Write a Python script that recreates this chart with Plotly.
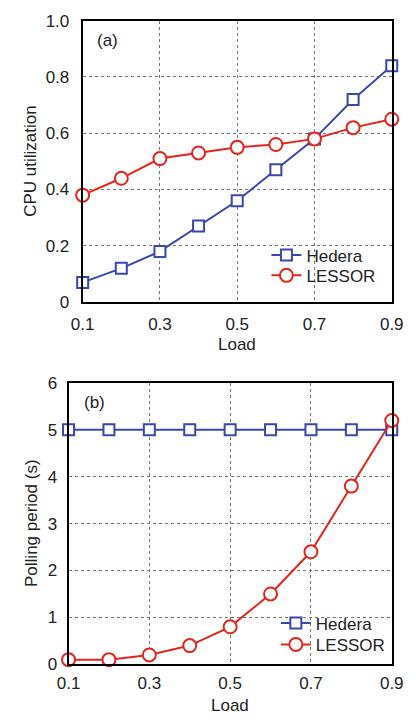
import plotly.graph_objects as go

load = [0.1, 0.2, 0.3, 0.4, 0.5, 0.6, 0.7, 0.8, 0.9]
cpu_hedera = [0.07, 0.12, 0.18, 0.27, 0.36, 0.47, 0.58, 0.72, 0.84]
cpu_lessor = [0.38, 0.44, 0.51, 0.53, 0.55, 0.56, 0.58, 0.62, 0.65]
poll_hedera = [5, 5, 5, 5, 5, 5, 5, 5, 5]
poll_lessor = [0.1, 0.1, 0.2, 0.4, 0.8, 1.5, 2.4, 3.8, 5.2]

x_ticks = [0.1, 0.3, 0.5, 0.7, 0.9]
x_ticktext = ["0.1", "0.3", "0.5", "0.7", "0.9"]
y1_ticks = [0, 0.2, 0.4, 0.6, 0.8, 1.0]
y1_ticktext = ["0", "0.2", "0.4", "0.6", "0.8", "1.0"]
y2_ticks = [0, 1, 2, 3, 4, 5, 6]

BLUE = "#3a47ad"
RED = "#e2261d"
FONT = "Liberation Sans, Arial, sans-serif"
W, H = 416, 724

fig = go.Figure()

def add(x, y, name, color, symbol, xa, ya, legend, size):
    fig.add_trace(go.Scatter(
        x=x, y=y, name=name, mode="lines+markers",
        line=dict(color=color, width=2),
        marker=dict(symbol=symbol, size=size, color="white",
                    line=dict(color=color, width=2)),
        xaxis=xa, yaxis=ya, legend=legend, cliponaxis=False))

add(load, cpu_hedera, "Hedera", BLUE, "square", "x", "y", "legend", 11)
add(load, cpu_lessor, "LESSOR", RED, "circle", "x", "y", "legend2", 13)
add(load, poll_hedera, "Hedera", BLUE, "square", "x2", "y2", "legend3", 11)
add(load, poll_lessor, "LESSOR", RED, "circle", "x2", "y2", "legend4", 13)

def axis(standoff):
    return dict(showline=True, linecolor="black", linewidth=2, mirror=True,
                showgrid=True, gridcolor="#777777", griddash="dot", gridwidth=1,
                zeroline=False, ticks="", ticklabelstandoff=standoff,
                tickfont=dict(size=17, color="#222"))

def leg(xpx, ypx):
    return dict(x=xpx / W, y=1 - ypx / H, xanchor="left", yanchor="middle",
                bgcolor="rgba(0,0,0,0)", font=dict(size=17, color="#222"),
                itemwidth=30, borderwidth=0)

fig.update_layout(
    width=W, height=H,
    margin=dict(l=0, r=0, t=0, b=0),
    paper_bgcolor="white", plot_bgcolor="white",
    font=dict(family=FONT, color="#222"),
    xaxis=dict(domain=[75 / W, 403 / W], range=[0.1, 0.9], tickvals=x_ticks,
               ticktext=x_ticktext, anchor="y", **axis(5)),
    yaxis=dict(domain=[1 - 301 / H, 1 - 12 / H], range=[0, 1.0], tickvals=y1_ticks,
               ticktext=y1_ticktext, anchor="x", **axis(8)),
    xaxis2=dict(domain=[60 / W, 403 / W], range=[0.1, 0.9], tickvals=x_ticks,
                ticktext=x_ticktext, anchor="y2", **axis(2)),
    yaxis2=dict(domain=[1 - 673 / H, 1 - 384 / H], range=[0, 6], tickvals=y2_ticks,
                anchor="x2", **axis(6)),
    legend=leg(270, 253),
    legend2=leg(270, 274),
    legend3=leg(280, 631),
    legend4=leg(280, 653),
    showlegend=True,
)

ann = [
    dict(text="Load", x=239 / W, y=1 - 345 / H),
    dict(text="Load", x=231 / W, y=1 - 715 / H),
    dict(text="CPU utilization", x=20 / W, y=1 - 156 / H, textangle=-90),
    dict(text="Polling period (s)", x=20 / W, y=1 - 528 / H, textangle=-90),
    dict(text="(a)", x=101 / W, y=1 - 32 / H),
    dict(text="(b)", x=88 / W, y=1 - 404 / H),
]
for a in ann:
    fig.add_annotation(xref="paper", yref="paper", showarrow=False,
                       xanchor="center", yanchor="middle",
                       font=dict(size=17, color="#222", family=FONT), **a)

fig.write_html("out.html", config={"displayModeBar": False},
               post_script="document.body.style.margin='0';"
                           "document.body.style.overflow='hidden';")
